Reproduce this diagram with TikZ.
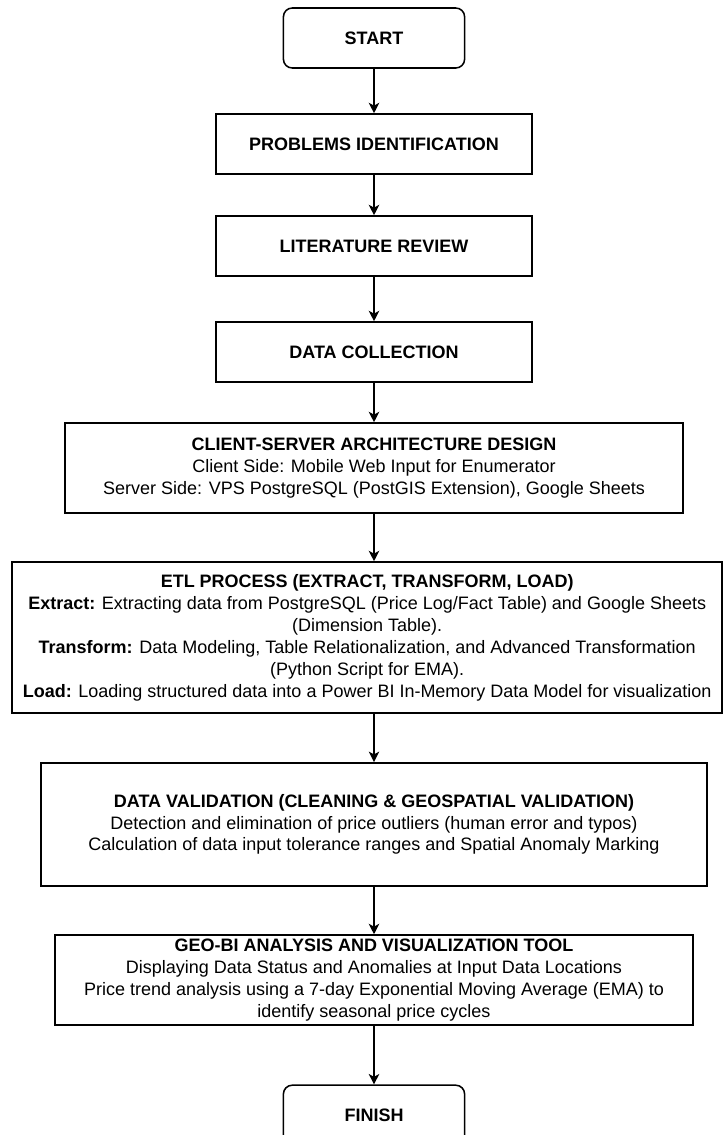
\documentclass[tikz,border=0pt]{standalone}
\usepackage{fontspec}
\setmainfont{Liberation Sans}
\usepackage{tikz}
\usetikzlibrary{arrows.meta, positioning}

\begin{document}
\begin{tikzpicture}[
        box/.style={draw, line width=1.1pt, inner sep=0pt, align=center,
            font=\fontsize{12.8}{15.6}\selectfont},
        term/.style={box, rounded corners=0.22cm, minimum width=4.53cm, minimum height=1.5cm},
        stepbox/.style={box, minimum width=7.9cm, minimum height=1.5cm},
        arr/.style={-{Stealth[length=2.6mm, width=2.6mm, inset=0.7mm]}, line width=1.1pt}
    ]
        \useasboundingbox (0,0) rectangle (18.125,-28.375); %枠
        \node[term] (start) at (9.35,-0.95) {\textbf{START}}; %開始
        \node[stepbox] (prob) at (9.35,-3.6) {\textbf{PROBLEMS IDENTIFICATION}};
        \node[stepbox] (lit) at (9.35,-6.15) {\textbf{LITERATURE REVIEW}};
        \node[stepbox] (coll) at (9.35,-8.8) {\textbf{DATA COLLECTION}};
        \node[box, minimum width=15.45cm, minimum height=2.25cm] (cs) at (9.35,-11.7)
            {\textbf{CLIENT-SERVER ARCHITECTURE DESIGN}\\
             Client Side: Mobile Web Input for Enumerator\\
             Server Side: VPS PostgreSQL (PostGIS Extension), Google Sheets};
        \node[box, minimum width=17.75cm, minimum height=3.78cm] (etl) at (9.18,-15.94)
            {\textbf{ETL PROCESS (EXTRACT, TRANSFORM, LOAD)}\\
             \textbf{Extract:} Extracting data from PostgreSQL (Price Log/Fact Table) and Google Sheets\\
             (Dimension Table).\\
             \textbf{Transform:} Data Modeling, Table Relationalization, and Advanced Transformation\\
             (Python Script for EMA).\\
             \textbf{Load:} Loading structured data into a Power BI In-Memory Data Model for visualization};
        \node[box, minimum width=16.65cm, minimum height=3.08cm] (dv) at (9.35,-20.61)
            {\textbf{DATA VALIDATION (CLEANING \& GEOSPATIAL VALIDATION)}\\
             Detection and elimination of price outliers (human error and typos)\\
             Calculation of data input tolerance ranges and Spatial Anomaly Marking};
        \node[box, minimum width=15.95cm, minimum height=2.25cm] (geo) at (9.35,-24.5)
            {\textbf{GEO-BI ANALYSIS AND VISUALIZATION TOOL}\\
             Displaying Data Status and Anomalies at Input Data Locations\\
             Price trend analysis using a 7-day Exponential Moving Average (EMA) to\\
             identify seasonal price cycles};
        \node[term] (finish) at (9.35,-27.88) {\textbf{FINISH}}; %終了
        \draw[arr] (start) -- (prob); %矢印
        \draw[arr] (prob) -- (lit);
        \draw[arr] (lit) -- (coll);
        \draw[arr] (coll) -- (cs);
        \draw[arr] (cs) -- (cs |- etl.north);
        \draw[arr] (etl.south -| dv) -- (dv);
        \draw[arr] (dv) -- (geo);
        \draw[arr] (geo) -- (finish);
    \end{tikzpicture}
\end{document}
